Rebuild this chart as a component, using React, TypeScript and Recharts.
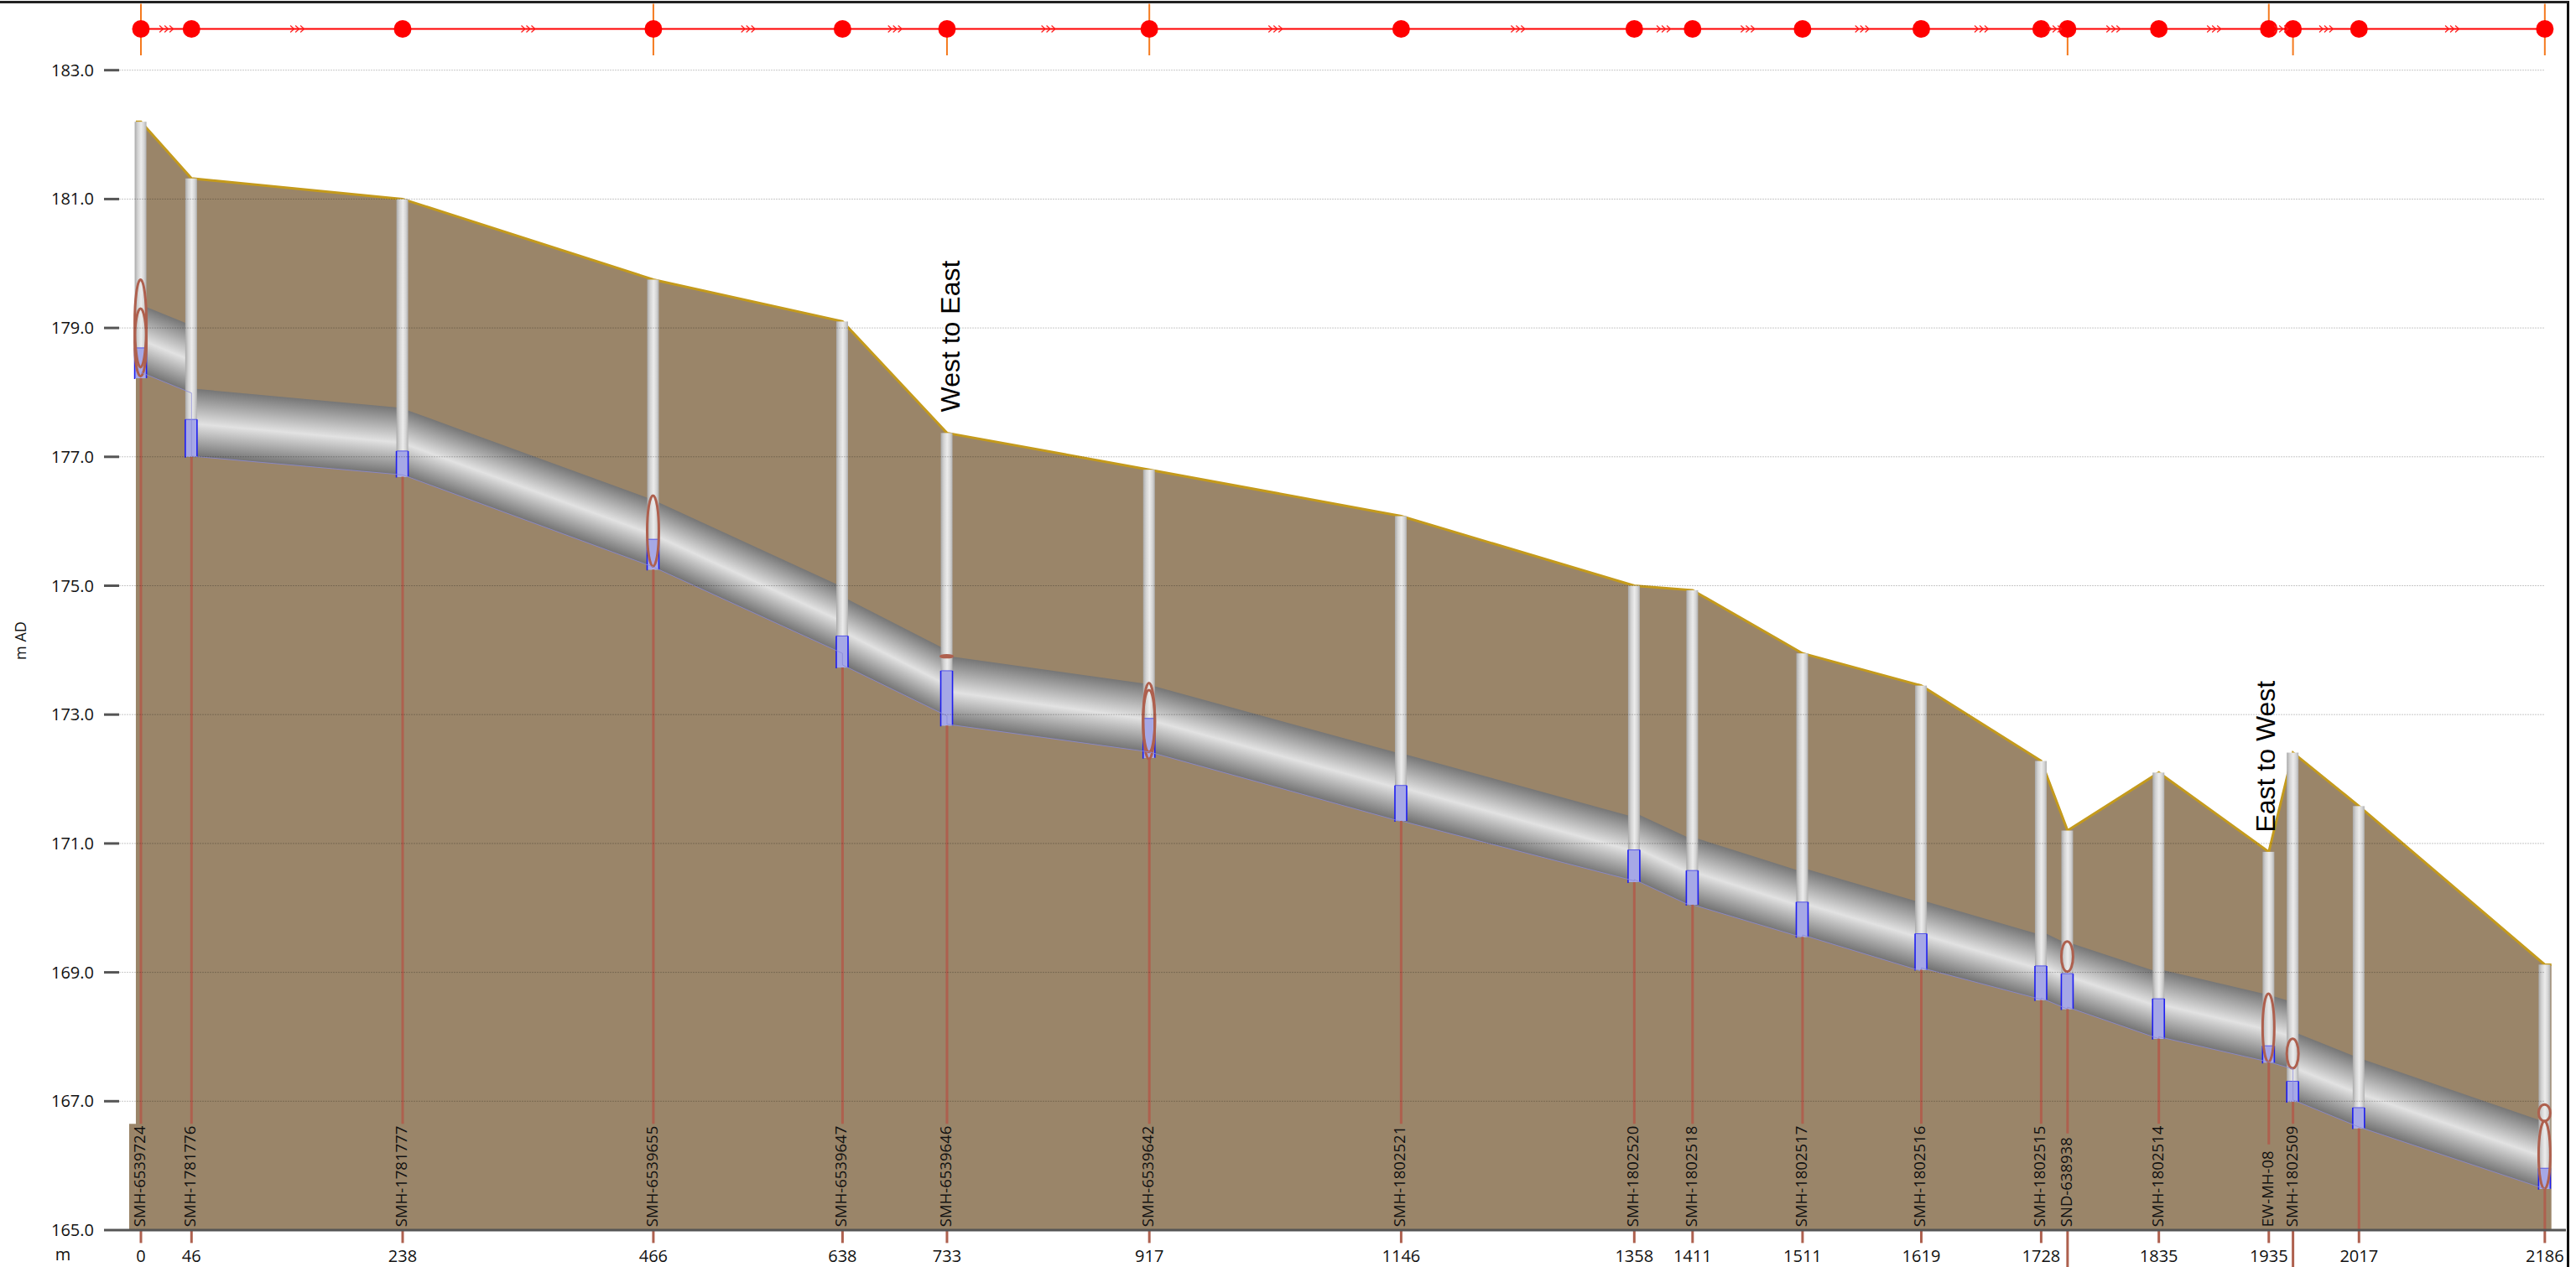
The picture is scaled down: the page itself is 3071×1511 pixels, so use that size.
import React from 'react';
import { ComposedChart, XAxis, YAxis, Area, Bar, Line, ReferenceLine, ReferenceArea, ReferenceDot } from 'recharts';

const chainages = [0, 46, 238, 466, 638, 733, 917, 1146, 1358, 1411, 1511, 1619, 1728, 1752, 1835, 1935, 1957, 2017, 2186];
const nodeNames = ['SMH-6539724', 'SMH-1781776', 'SMH-1781777', 'SMH-6539655', 'SMH-6539647', 'SMH-6539646', 'SMH-6539642', 'SMH-1802521', 'SMH-1802520', 'SMH-1802518', 'SMH-1802517', 'SMH-1802516', 'SMH-1802515', 'SND-638938', 'SMH-1802514', 'EW-MH-08', 'SMH-1802509', '', ''];
const distanceTicks = [0, 46, 238, 466, 638, 733, 917, 1146, 1358, 1411, 1511, 1619, 1728, 1835, 1935, 2017, 2186];
const levelTicks = [165, 167, 169, 171, 173, 175, 177, 179, 181, 183];
const groundLevels = [182.2, 181.32, 181.0, 179.75, 179.1, 177.37, 176.8, 176.08, 175.0, 174.93, 173.95, 173.45, 172.28, 171.2, 172.1, 170.87, 172.41, 171.58, 169.12];
const waterTops = [178.69, 177.58, 177.09, 175.72, 174.22, 173.68, 172.94, 171.9, 170.9, 170.58, 170.09, 169.6, 169.1, 168.98, 168.59, 167.86, 167.31, 166.9, 165.96];
const shaftInverts = [178.22, 177.0, 176.69, 175.25, 173.73, 172.83, 172.33, 171.35, 170.4, 170.05, 169.55, 169.04, 168.57, 168.43, 167.97, 167.6, 166.99, 166.58, 165.64];
const stickEnds = [166.65, 166.65, 166.65, 166.65, 166.65, 166.65, 166.65, 166.65, 166.65, 166.65, 166.65, 166.65, 166.65, 166.5, 166.65, 166.33, 166.65, 165, 165];
const ellipseA: ([number, number] | null)[] = [[178.39, 179.75], null, null, [175.3, 176.4], null, null, [172.31, 173.49], null, null, null, null, null, null, [169.01, 169.48], null, [167.61, 168.67], [167.51, 167.97], null, [165.64, 166.69]];
const ellipseB: ([number, number] | null)[] = [[178.25, 179.3], null, null, null, null, [173.89, 173.92], [172.42, 173.38], null, null, null, null, null, null, null, null, null, null, null, [166.69, 166.95]];

const segStartCrown = [179.36, 178.06, 177.75, 176.33, 174.83, 173.91, 173.46, 172.4, 171.48, 171.1, 170.62, 170.12, 169.64, 169.47, 169.05, 168.65, 168.08, 167.67];
const segStartInvert = [178.31, 177.01, 176.72, 175.29, 173.77, 172.85, 172.42, 171.35, 170.44, 170.05, 169.58, 169.07, 168.6, 168.46, 168.0, 167.61, 167.02, 166.6];
const segEndCrown = [179.04, 177.76, 176.33, 174.98, 174.0, 173.47, 172.39, 171.41, 171.06, 170.56, 170.08, 169.58, 169.44, 169.0, 168.65, 168.54, 167.67, 166.68];
const segEndInvert = [177.99, 176.72, 175.29, 173.95, 172.98, 172.42, 171.34, 170.42, 170.02, 169.54, 169.02, 168.58, 168.43, 167.97, 167.61, 167.5, 166.6, 165.64];

const stripLevel = 183.64;
const stripTop = 184.03;
const stripBottom = 183.23;
const strokesBoth = [0, 466, 917, 2186];
const strokesBelow = [733, 1752, 1957];
const strokesAbove = [1935];
const axisDrops = [[0, 164.8], [46, 164.8], [238, 164.8], [466, 164.8], [638, 164.8], [733, 164.8], [917, 164.8], [1146, 164.8], [1358, 164.8], [1411, 164.8], [1511, 164.8], [1619, 164.8], [1728, 164.8], [1752, 164.42], [1835, 164.8], [1935, 164.8], [1957, 164.42], [2017, 164.8], [2186, 164.8]];

const xDomain = [-19.83, 2205.2];
const yDomain = [165, 184.05];
const font = '"Open Sans", "Noto Sans", sans-serif';
const BROWN = '#9A8569';
const STICK = '#AE604E';

const rows = chainages.map((c, i) => ({
  chainage: c,
  name: nodeNames[i],
  ground: groundLevels[i],
  shaft: [shaftInverts[i], groundLevels[i]],
  water: [shaftInverts[i], waterTops[i]],
  ellA: ellipseA[i],
  ellB: ellipseB[i],
  strip: stripLevel,
  nameBase: 165.05,
}));
const groundRows = [
  { chainage: -4.6, ground: groundLevels[0] },
  ...chainages.map((c, i) => ({ chainage: c, ground: groundLevels[i] })),
  { chainage: 2192, ground: groundLevels[18] },
];
const chevrons = chainages.slice(1).map((c, i) => ({ chainage: (c + chainages[i]) / 2, strip: stripLevel }));
const segments = segStartCrown.map((_, i) => {
  const u0 = segStartCrown[i], u1 = segEndCrown[i], l0 = segStartInvert[i], l1 = segEndInvert[i];
  const hi = Math.max(u0, u1), lo = Math.min(l0, l1), H = hi - lo;
  const a = (hi - u0) / H, b = (hi - u1) / H, s = b - a;
  const t = ((u0 - l0 + u1 - l1) / 2) / H;
  const k = t / (1 + s * s);
  return {
    id: `pipe${i}`,
    grad: { x1: 0, y1: a, x2: -s * k, y2: a + k },
    data: [
      { chainage: chainages[i], band: [l0, u0] },
      { chainage: chainages[i + 1], band: [l1, u1] },
    ],
  };
});
const invertLine = segments.flatMap((s) => s.data.map((d) => ({ chainage: d.chainage, low: d.band[0] })));

const EllipseShape = (p: any) => {
  if (!p.height) return null;
  return <ellipse cx={p.x + p.width / 2} cy={p.y + p.height / 2} rx={7} ry={Math.abs(p.height) / 2} fill="none" stroke={STICK} strokeWidth={3} />;
};
const ShaftShape = (p: any) => (
  <rect x={p.x + p.width / 2 - 7} y={p.y} width={14} height={p.height} fill="url(#shaftFill)" />
);
const WaterShape = (p: any) => {
  const cx = p.x + p.width / 2;
  return (
    <g>
      <rect x={cx - 7} y={p.y} width={14} height={p.height} fill="#A6A8E6" />
      <path d={`M${cx - 7} ${p.y}H${cx + 7}`} stroke="#5555E6" strokeWidth={1} fill="none" />
      <path d={`M${cx - 7} ${p.y}V${p.y + p.height + 1}M${cx + 7} ${p.y}V${p.y + p.height}`} stroke="#1E1EF0" strokeWidth={1.6} fill="none" />
    </g>
  );
};
const ChevronDot = (p: any) => (
  <g key={p.index} fill="none" stroke="#ff2020" strokeWidth={1.3}>
    {[-8, -2, 4].map((d) => (
      <path key={d} d={`M${p.cx + d} ${p.cy - 4}L${p.cx + d + 4.5} ${p.cy}L${p.cx + d} ${p.cy + 4}`} />
    ))}
  </g>
);
const NameDot = (p: any) => (
  <text key={p.index} transform={`translate(${p.cx + 5},${p.cy}) rotate(-90)`} fontFamily={font} fontSize={18.5} fill="#111">{p.payload.name}</text>
);
const Rotated = (label: string) => (p: any) => (
  <text transform={`translate(${p.cx},${p.cy}) rotate(-90)`} textAnchor="middle" dominantBaseline="central" fontFamily='"Liberation Sans", Arial, sans-serif' fontSize={32} fill="#000">{label}</text>
);
const hiddenAxes = ['a', 'b', 'c', 'd'];

export default function App() {
  return (
    <div style={{ position: 'absolute', left: 0, top: 0, width: 3071, height: 1511, background: '#fff', overflow: 'hidden' }}>
      <div style={{ position: 'absolute', left: 0, top: 1, width: 3060, height: 1510, borderTop: '3px solid #222', borderRight: '3px solid #111' }} />
      <ComposedChart width={3071} height={1511} data={rows} barGap={0} margin={{ top: 3, right: 12, bottom: 0, left: 0 }} style={{ position: 'absolute' }}>
        <defs>
          <linearGradient id="shaftFill" x1="0" y1="0" x2="1" y2="0">
            <stop offset="0" stopColor="#A9A9A9" />
            <stop offset="0.25" stopColor="#D2D2D2" />
            <stop offset="0.55" stopColor="#ECECEC" />
            <stop offset="0.8" stopColor="#D4D4D4" />
            <stop offset="1" stopColor="#B0B0B0" />
          </linearGradient>
          {segments.map((s) => (
            <linearGradient key={s.id} id={s.id} {...s.grad}>
              <stop offset="0" stopColor="#767676" />
              <stop offset="0.52" stopColor="#E2E2E2" />
              <stop offset="1" stopColor="#747474" />
            </linearGradient>
          ))}
        </defs>
        <XAxis dataKey="chainage" type="number" scale="linear" domain={xDomain} allowDataOverflow ticks={distanceTicks} interval={0} height={44} tickLine={false} tickMargin={18}
          axisLine={{ stroke: '#555', strokeWidth: 3 }} tick={{ fontFamily: font, fontSize: 20, fill: '#111' }}
          label={{ content: () => <text x={75} y={1503} textAnchor="middle" fontFamily={font} fontSize={20} fill="#111">m</text> }} />
        {hiddenAxes.map((id) => (
          <XAxis key={id} xAxisId={id} dataKey="chainage" type="number" scale="linear" domain={xDomain} allowDataOverflow hide />
        ))}
        <YAxis type="number" domain={yDomain} ticks={levelTicks} interval={0} width={142} axisLine={false} tickSize={18} tickMargin={12}
          tickLine={{ stroke: '#555', strokeWidth: 3 }} tickFormatter={(v: number) => v.toFixed(1)} tick={{ fontFamily: font, fontSize: 20, fill: '#111' }}
          label={{ content: () => <text transform="translate(31,764) rotate(-90)" textAnchor="middle" fontFamily={font} fontSize={18} fill="#111">m AD</text> }} />

        <Area data={groundRows} dataKey="ground" type="linear" baseValue={165} fill={BROWN} fillOpacity={1} stroke="#C49A1C" strokeWidth={3} dot={false} isAnimationActive={false} />
        {segments.map((s) => (
          <Area key={s.id} data={s.data} dataKey="band" type="linear" fill={`url(#${s.id})`} fillOpacity={1} stroke="none" dot={false} isAnimationActive={false} />
        ))}
        <ReferenceArea x1={-10.7} x2={-4.6} y1={165} y2={166.65} fill={BROWN} fillOpacity={1} stroke="none" ifOverflow="visible" />

        <Line data={invertLine} dataKey="low" type="linear" stroke="#8A8AD8" strokeWidth={0.8} dot={false} isAnimationActive={false} />

        <Bar xAxisId="a" dataKey="shaft" barSize={14} shape={ShaftShape} isAnimationActive={false} />
        <Bar xAxisId="b" dataKey="water" barSize={14} shape={WaterShape} isAnimationActive={false} />
        <Bar xAxisId="c" dataKey="ellA" barSize={14} shape={EllipseShape} isAnimationActive={false} />
        <Bar xAxisId="d" dataKey="ellB" barSize={14} shape={EllipseShape} isAnimationActive={false} />

        {chainages.map((c, i) => (
          <ReferenceLine key={`s${c}`} segment={[{ x: c, y: shaftInverts[i] }, { x: c, y: stickEnds[i] }]} stroke={STICK} strokeWidth={3} ifOverflow="visible" />
        ))}
        {axisDrops.map(([c, y]) => (
          <ReferenceLine key={`d${c}`} segment={[{ x: c, y: 165 }, { x: c, y }]} stroke={STICK} strokeWidth={3} ifOverflow="visible" />
        ))}
        {strokesBoth.map((c) => (
          <ReferenceLine key={`b${c}`} segment={[{ x: c, y: stripTop }, { x: c, y: stripBottom }]} stroke="#F57A1E" strokeWidth={2} ifOverflow="visible" />
        ))}
        {strokesBelow.map((c) => (
          <ReferenceLine key={`l${c}`} segment={[{ x: c, y: stripLevel }, { x: c, y: stripBottom }]} stroke="#F57A1E" strokeWidth={2} ifOverflow="visible" />
        ))}
        {strokesAbove.map((c) => (
          <ReferenceLine key={`u${c}`} segment={[{ x: c, y: stripTop }, { x: c, y: stripLevel }]} stroke="#F57A1E" strokeWidth={2} ifOverflow="visible" />
        ))}
        {levelTicks.map((v) => (
          <ReferenceLine key={`g${v}`} segment={[{ x: xDomain[0], y: v }, { x: 2186, y: v }]} stroke="rgba(0,0,0,0.22)" strokeWidth={1} strokeDasharray="2 1" ifOverflow="visible" />
        ))}

        <Line dataKey="strip" type="linear" stroke="#FF0000" strokeWidth={2.2} dot={{ r: 10.5, fill: '#FF0000', stroke: 'none' }} isAnimationActive={false} />
        <Line data={chevrons} dataKey="strip" type="linear" stroke="none" dot={ChevronDot} isAnimationActive={false} />
        <Line dataKey="nameBase" type="linear" stroke="none" dot={NameDot} isAnimationActive={false} />

        <ReferenceDot x={736} y={178.87} r={0} shape={Rotated('West to East')} ifOverflow="visible" />
        <ReferenceDot x={1932} y={172.35} r={0} shape={Rotated('East to West')} ifOverflow="visible" />
      </ComposedChart>
    </div>
  );
}
